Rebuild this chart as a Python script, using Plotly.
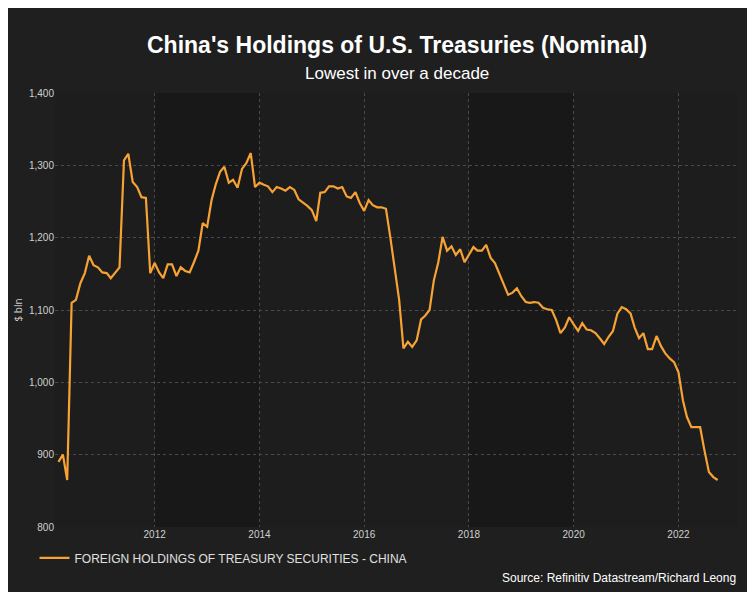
import pandas as pd
import plotly.graph_objects as go

# Monthly holdings, $ bln (Mar 2010 .. Jan 2023)
start_month = "2010-03-01"
holdings = [
    890, 900, 865, 1110, 1114, 1137, 1151, 1175, 1162, 1159, 1152, 1151,
    1144, 1151, 1159, 1307, 1316, 1277, 1270, 1256, 1255, 1151, 1165, 1152,
    1144, 1163, 1163, 1147, 1159, 1154, 1152, 1166, 1182, 1220, 1215, 1252,
    1273, 1291, 1298, 1276, 1280, 1269, 1295, 1303, 1317, 1270, 1276, 1273,
    1271, 1263, 1270, 1268, 1265, 1270, 1266, 1253, 1249, 1244, 1238, 1223,
    1262, 1263, 1271, 1271, 1268, 1270, 1257, 1255, 1263, 1248, 1237, 1252,
    1245, 1242, 1242, 1240, 1201, 1159, 1114, 1047, 1056, 1049, 1058, 1087,
    1092, 1100, 1141, 1166, 1201, 1182, 1188, 1176, 1184, 1166, 1176, 1187,
    1182, 1182, 1190, 1172, 1165, 1151, 1137, 1121, 1124, 1130, 1119, 1111,
    1110, 1111, 1110, 1103, 1101, 1100, 1086, 1068, 1076, 1090, 1080, 1071,
    1082, 1073, 1072, 1068, 1061, 1053, 1063, 1071, 1095, 1104, 1101, 1095,
    1076, 1061, 1068, 1046, 1046, 1064, 1050, 1040, 1033, 1028, 1014, 975,
    952, 938, 938, 938, 906, 876, 869, 865,
]
dates = pd.date_range(start_month, periods=len(holdings), freq="MS")
tick_years = [str(y) for y in range(2012, 2023, 2)]

fig = go.Figure()
fig.add_trace(go.Scatter(
    x=dates, y=holdings, mode="lines",
    line=dict(color="#f7a234", width=2.2),
    name="FOREIGN HOLDINGS OF TREASURY SECURITIES - CHINA",
))

# subtle alternating column shading
for a, b in [("2012-01-01", "2014-01-01"), ("2018-01-01", "2020-01-01")]:
    fig.add_vrect(x0=a, x1=b, fillcolor="#181818", opacity=1,
                  layer="below", line_width=0)

grid = dict(showgrid=True, gridcolor="#4a4a4a", griddash="dot", gridwidth=1,
            zeroline=False, showline=False,
            tickfont=dict(color="#d0d0d0", size=10, family="Arial"))

fig.update_layout(
    width=739, height=584,
    paper_bgcolor="#1f1f1f", plot_bgcolor="#1d1d1d",
    margin=dict(l=47, r=9, t=85, b=65),
    xaxis=dict(range=["2010-02-05", "2023-02-20"],
               tickvals=[f"{y}-01-01" for y in tick_years],
               ticktext=tick_years, **grid),
    yaxis=dict(range=[800, 1400], dtick=100, tickformat=",",
               title=dict(text="$ bln", font=dict(color="#d0d0d0", size=10),
                          standoff=4),
               **grid),
    showlegend=True,
    legend=dict(x=-0.03, y=-0.071, xanchor="left", yanchor="middle",
                orientation="h", bgcolor="rgba(0,0,0,0)",
                font=dict(color="#e0e0e0", size=12, family="Arial")),
    annotations=[
        dict(text="<b>China's Holdings of U.S. Treasuries (Nominal)</b>",
             xref="paper", yref="paper", x=0.5, y=1.11, xanchor="center",
             yanchor="middle", showarrow=False,
             font=dict(color="white", size=23, family="Arial")),
        dict(text="Lowest in over a decade",
             xref="paper", yref="paper", x=0.5, y=1.046, xanchor="center",
             yanchor="middle", showarrow=False,
             font=dict(color="white", size=17, family="Arial")),
        dict(text="Source: Refinitiv Datastream/Richard Leong",
             xref="paper", yref="paper", x=1.0, y=-0.118,
             xanchor="right", yanchor="middle", showarrow=False,
             font=dict(color="white", size=12, family="Arial")),
    ],
)

fig.write_html("out.html")
